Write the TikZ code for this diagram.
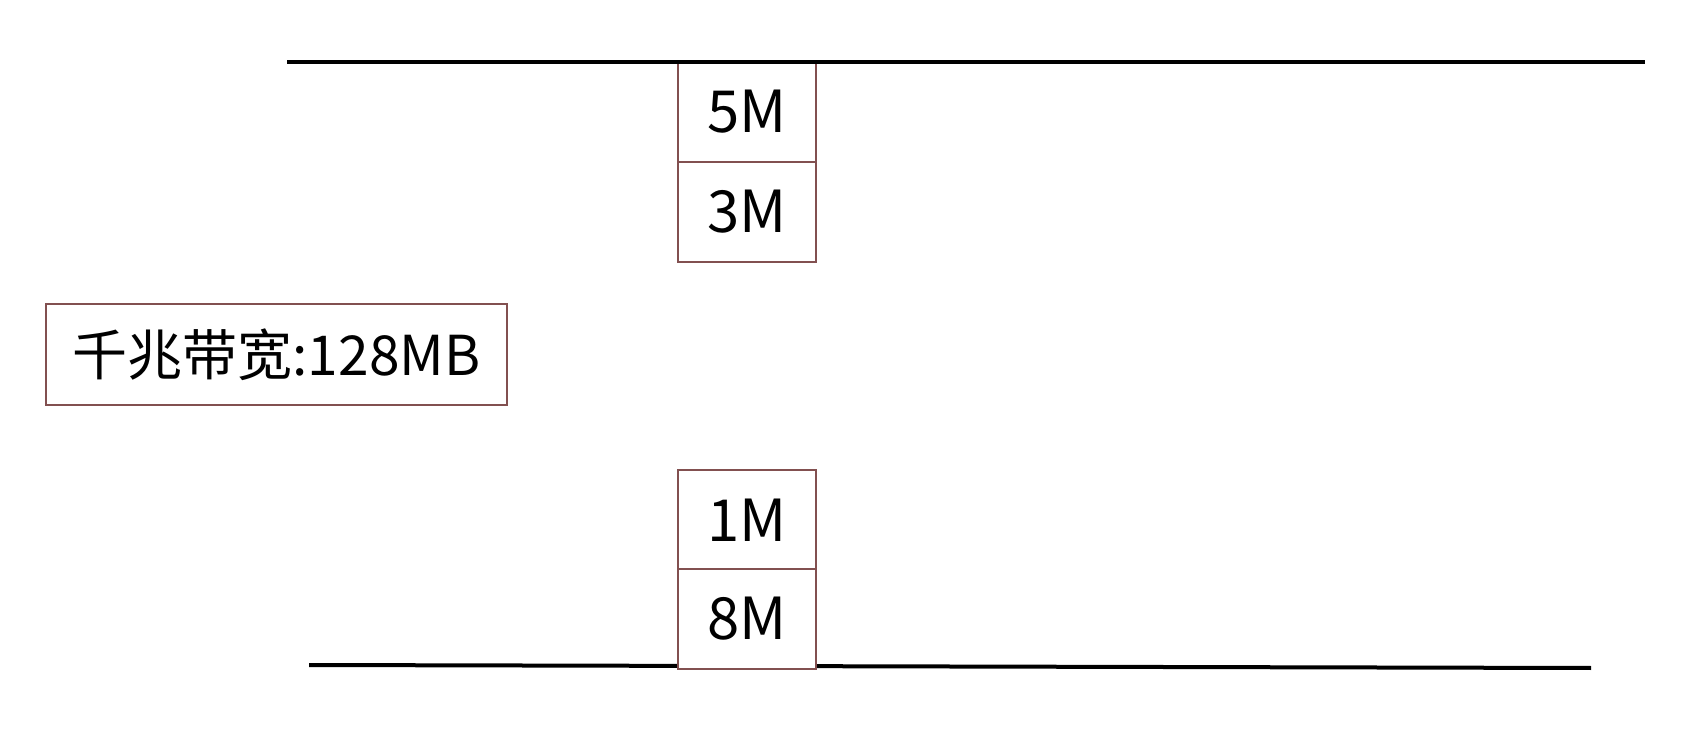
\documentclass[tikz,border=0pt]{standalone}
\usepackage{fontspec}
\setmainfont{Noto Sans CJK SC}
\definecolor{boxred}{RGB}{130,80,80}
\begin{document}
\begin{tikzpicture}[x=0.5pt,y=-0.5pt,
  cell/.style={draw=boxred, line width=0.75pt, fill=white, minimum width=69pt, minimum height=50pt, inner sep=0pt, font=\fontsize{29}{32}\selectfont},
  labelbox/.style={draw=boxred, line width=0.75pt, fill=white, minimum width=230.5pt, minimum height=50.5pt, inner sep=0pt, font=\fontsize{27.5}{31}\selectfont},
  rail/.style={line width=2pt, black}]
\useasboundingbox[fill=white] (0,0) rectangle (1690,747);
\coordinate (tl) at (287,62);
\coordinate (tr) at (1645,62);
\coordinate (bl) at (309,665);
\coordinate (br) at (1591,668);
\draw[rail] (bl) -- (br);
\node[cell] (c5) at (747,112) {5M};
\node[cell] (c3) at (747,212) {3M};
\draw[rail] (tl) -- (tr);
\node[cell] (c1) at (747,520) {1M};
\node[cell] (c8) at (747,619) {8M};
\node[labelbox] (bw) at (276.5,354.5) {千兆带宽:128MB};
\end{tikzpicture}
\end{document}
